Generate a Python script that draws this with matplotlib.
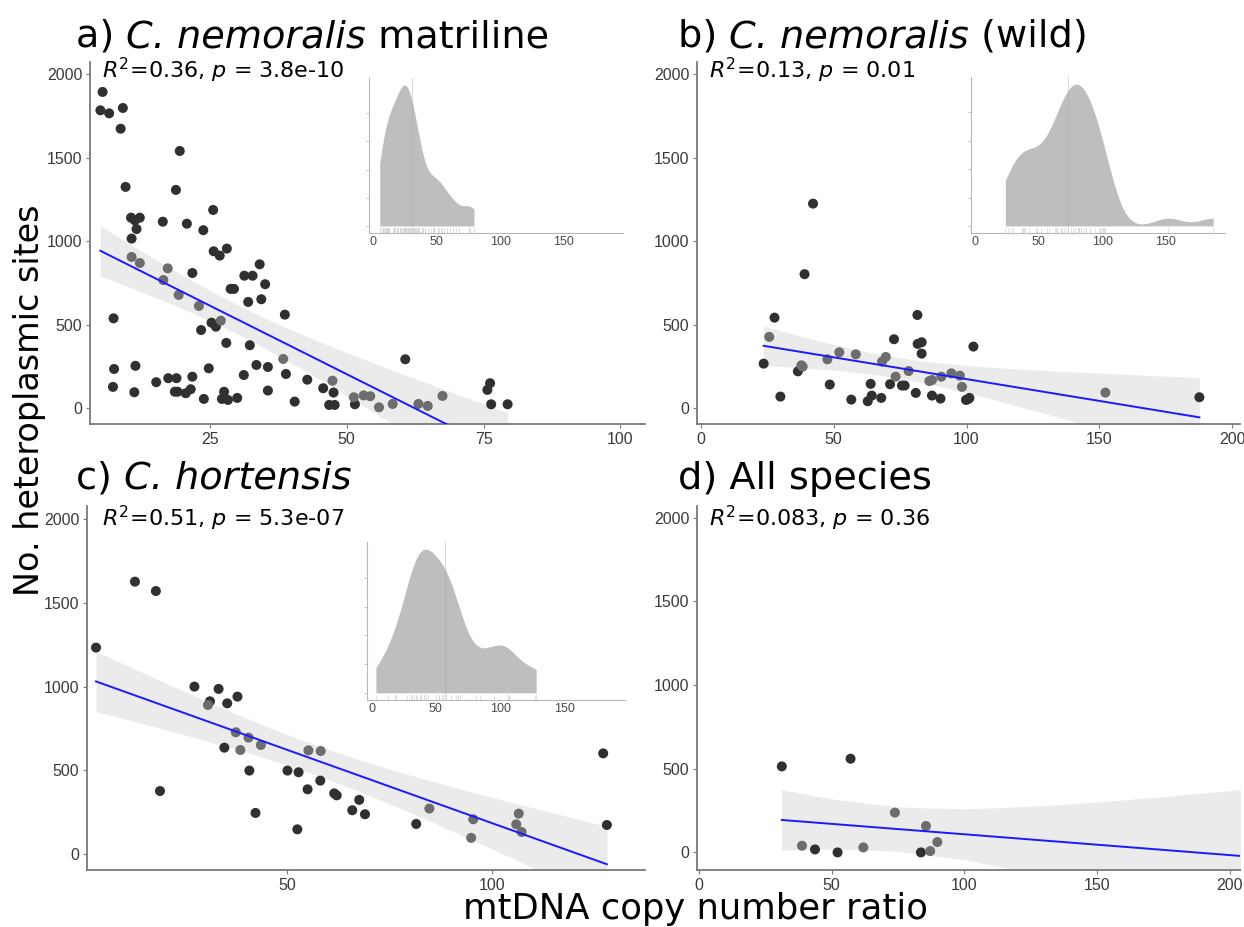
import numpy as np
import matplotlib
matplotlib.use('Agg')
import matplotlib.pyplot as plt
import matplotlib.transforms as mtransforms

plt.rcParams['font.family'] = 'DejaVu Sans'
plt.rcParams['mathtext.fontset'] = 'dejavusans'

#---------------------------------------------------------------------------------
# values: copy number ratio (x) vs heteroplasmic sites (y)
#---------------------------------------------------------------------------------

# a) C. nemoralis matriline
a_dark_x = [5.4, 5.0, 6.6, 9.1, 8.7, 19.5, 9.6, 18.8, 25.6, 10.6, 12.2, 11.3, 11.6,
            16.4, 20.8, 23.8, 10.7, 25.7, 26.8, 28.1, 31.3, 32.8, 34.1, 35.1, 21.8,
            28.8, 29.4, 32.0, 34.4, 38.7, 25.3, 26.1, 23.4, 7.4, 28.0, 32.3, 33.5,
            35.6, 38.9, 11.4, 7.5, 24.8, 31.2, 15.2, 17.4, 18.9, 21.8, 42.8, 7.3,
            11.2, 18.6, 19.1, 20.6, 21.5, 23.9, 27.6, 27.2, 28.3, 30.0, 35.6, 40.5,
            45.7, 47.6, 46.8, 47.8, 51.5, 60.7, 76.2, 75.7, 76.4, 79.4]
a_dark_y = [1893, 1783, 1765, 1797, 1673, 1540, 1325, 1307, 1187, 1141, 1141, 1125, 1073,
            1117, 1105, 1066, 1016, 940, 914, 956, 794, 794, 862, 743, 810,
            715, 715, 637, 653, 561, 513, 489, 469, 539, 392, 378, 260,
            248, 206, 255, 236, 240, 200, 157, 181, 181, 190, 172, 129,
            97, 100, 100, 91, 115, 57, 100, 57, 51, 63, 107, 41,
            121, 95, 21, 21, 25, 294, 151, 111, 25, 25]
a_grey_x = [10.7, 12.2, 17.3, 16.5, 19.3, 23.0, 27.0, 38.4, 47.4, 51.3, 53.1, 54.3,
            55.9, 58.4, 63.1, 64.8, 67.5]
a_grey_y = [906, 870, 838, 768, 679, 613, 525, 296, 166, 67, 78, 73,
            7, 27, 27, 15, 75]

# b) C. nemoralis (wild)
b_dark_x = [42.2, 39.0, 27.7, 81.5, 72.7, 81.6, 83.1, 102.6, 83.1, 23.6, 36.5, 48.5,
            63.9, 71.2, 75.7, 76.7, 80.9, 87.0, 90.2, 29.9, 56.6, 62.8, 64.3, 67.9,
            99.8, 101.1, 100.5, 187.7]
b_dark_y = [1225, 803, 543, 559, 414, 386, 396, 370, 328, 268, 222, 143,
            147, 145, 137, 137, 93, 77, 59, 71, 53, 43, 77, 63,
            51, 63, 55, 67]
b_grey_x = [25.7, 52.1, 58.3, 47.6, 37.8, 38.3, 69.6, 68.2, 73.3, 78.2, 86.0, 87.0,
            90.5, 94.3, 97.5, 98.3, 152.3]
b_grey_y = [428, 336, 324, 294, 258, 250, 308, 280, 190, 224, 164, 170,
            190, 210, 196, 129, 95]

# c) C. hortensis
c_dark_x = [3.4, 12.9, 18.0, 19.0, 27.4, 33.3, 37.9, 31.2, 35.4, 34.7, 40.8, 42.3,
            50.1, 52.8, 55.0, 58.1, 61.5, 62.1, 52.5, 65.9, 67.6, 69.0, 81.5, 127.1,
            128.0]
c_dark_y = [1233, 1627, 1571, 376, 1000, 986, 940, 912, 900, 635, 498, 245,
            498, 488, 386, 438, 362, 350, 147, 261, 323, 237, 179, 601,
            173]
c_grey_x = [30.7, 37.5, 40.6, 38.6, 43.6, 55.2, 58.2, 84.7, 95.4, 94.9, 106.5, 105.9,
            107.2]
c_grey_y = [890, 727, 695, 621, 651, 619, 615, 271, 207, 96, 241, 177,
            131]

# d) All species (one point lies beyond the shown x range, so the fit is read off)
d_dark_x = [31.2, 57.1, 43.7, 52.2, 83.6]
d_dark_y = [514, 560, 18, 0, 0]
d_grey_x = [73.8, 85.5, 89.8, 38.8, 61.9, 87.1]
d_grey_y = [238, 158, 62, 40, 30, 8]
d_fit_x = [31.2, 206.4]
d_fit_y = [194, -24]
d_band_x = [31, 50, 75, 100, 125, 150, 175, 206]
d_band_hi = [375, 320, 272, 260, 275, 301, 334, 378]
d_band_lo = [13, 21, 7, -44, -120, -209, -304, -425]

# title pieces: (text, style)
titles = [[('a) ', 'normal'), ('C. nemoralis', 'italic'), (' matriline', 'normal')],
          [('b) ', 'normal'), ('C. nemoralis', 'italic'), (' (wild)', 'normal')],
          [('c) ', 'normal'), ('C. hortensis', 'italic')],
          [('d) All species', 'normal')]]
stats = [r'$R^2$=0.36, $p$ = 3.8e-10',
         r'$R^2$=0.13, $p$ = 0.01',
         r'$R^2$=0.51, $p$ = 5.3e-07',
         r'$R^2$=0.083, $p$ = 0.36']

W, H = 1244, 927
DARK = '#303030'
GREY = '#6d6d6d'
BAND = '#ebebeb'
AXCOL = '#7a7a7a'


def fig_box(left, top, right, bottom):
    return [left / W, 1 - bottom / H, (right - left) / W, (bottom - top) / H]


def lm_band(x, y):
    x = np.asarray(x, float)
    y = np.asarray(y, float)
    n = len(x)
    slope, icpt = np.polyfit(x, y, 1)
    xs = np.linspace(x.min(), x.max(), 100)
    yh = icpt + slope * xs
    s = np.sqrt(((y - icpt - slope * x) ** 2).sum() / (n - 2))
    t = 1.96 + 2.4 / (n - 2)
    se = s * np.sqrt(1 / n + (xs - x.mean()) ** 2 / ((x - x.mean()) ** 2).sum())
    return xs, yh, yh - t * se, yh + t * se


def density(x):
    x = np.asarray(x, float)
    iqr = np.percentile(x, 75) - np.percentile(x, 25)
    bw = 0.9 * min(x.std(ddof=1), iqr / 1.34) * len(x) ** -0.2
    xs = np.linspace(x.min(), x.max(), 512)
    k = np.exp(-0.5 * ((xs[:, None] - x[None, :]) / bw) ** 2)
    return xs, k.sum(1) / (len(x) * bw * np.sqrt(2 * np.pi))


def style_main(ax, xlim, ylim, xticks):
    ax.set_xlim(*xlim)
    ax.set_ylim(*ylim)
    ax.set_xticks(xticks)
    ax.set_yticks([0, 500, 1000, 1500, 2000])
    for side in ['top', 'right']:
        ax.spines[side].set_visible(False)
    for side in ['left', 'bottom']:
        ax.spines[side].set_color(AXCOL)
        ax.spines[side].set_linewidth(1.3)
    ax.tick_params(colors=AXCOL, length=3, width=0.8, pad=2.5, labelcolor='#3a3a3a')
    for lab in ax.get_xticklabels() + ax.get_yticklabels():
        lab.set_family('Liberation Sans')
        lab.set_fontsize(11.5)


def inset(box, xdata):
    ax = fig.add_axes(box)
    xs, dens = density(xdata)
    ax.fill_between(xs, 0, dens, color='#bebebe', lw=0)
    ax.axvline(np.mean(xdata), color='#a5a5a5', lw=0.6, alpha=0.5)
    trans = mtransforms.blended_transform_factory(ax.transData, ax.transAxes)
    for v in xdata:
        ax.plot([v, v], [0, 0.03], color='#d4d4d4', lw=0.5, transform=trans)
    ax.set_xlim(-3.5, 197)
    ax.set_xticks([0, 50, 100, 150])
    ax.set_yticks(np.linspace(0, dens.max(), 6)[:-1])
    ax.set_yticklabels([])
    for side in ['top', 'right']:
        ax.spines[side].set_visible(False)
    for side in ['left', 'bottom']:
        ax.spines[side].set_color('#b8b8b8')
        ax.spines[side].set_linewidth(0.8)
    ax.tick_params(axis='x', length=0, pad=2, labelsize=9, labelcolor='#4a4a4a')
    ax.tick_params(axis='y', length=2, width=0.6, colors='#b8b8b8')
    for lab in ax.get_xticklabels():
        lab.set_family('Liberation Sans')
    ax.patch.set_alpha(0)
    return ax


def rich_title(x, y, parts, size):
    renderer = fig.canvas.get_renderer()
    for txt, style in parts:
        t = fig.text(x / W, 1 - y / H, txt, fontsize=size, fontstyle=style,
                     va='baseline')
        x += t.get_window_extent(renderer).width


fig = plt.figure(figsize=(W / 100, H / 100), dpi=100)

ax_a = fig.add_axes(fig_box(90, 62, 645, 424))
ax_b = fig.add_axes(fig_box(697, 62, 1240, 424))
ax_c = fig.add_axes(fig_box(87, 506, 645, 870))
ax_d = fig.add_axes(fig_box(697, 506, 1240, 870))

panels = [(ax_a, a_dark_x, a_dark_y, a_grey_x, a_grey_y),
          (ax_b, b_dark_x, b_dark_y, b_grey_x, b_grey_y),
          (ax_c, c_dark_x, c_dark_y, c_grey_x, c_grey_y),
          (ax_d, d_dark_x, d_dark_y, d_grey_x, d_grey_y)]

for i, (ax, dx, dy, gx, gy) in enumerate(panels):
    if i < 3:
        xs, yh, lo, hi = lm_band(dx + gx, dy + gy)
    else:
        xs, lo, hi = d_band_x, d_band_lo, d_band_hi
    ax.fill_between(xs, lo, hi, color=BAND, lw=0, zorder=1)
    ax.scatter(dx, dy, s=52, color=DARK, edgecolors='none', zorder=3)
    ax.scatter(gx, gy, s=52, color=GREY, edgecolors='none', zorder=3)
    if i < 3:
        ax.plot(xs, yh, color='#1a1aff', lw=1.4, zorder=4)
    else:
        ax.plot(d_fit_x, d_fit_y, color='#1a1aff', lw=1.4, zorder=4)
    ax.text(0.022 if i != 2 else 0.026, 0.955 if i < 2 else 0.944, stats[i],
            transform=ax.transAxes, fontsize=16, va='baseline', ha='left', zorder=5)

style_main(ax_a, (3.1, 104.5), (-93, 2072), [25, 50, 75, 100])
style_main(ax_b, (-1.5, 203), (-93, 2072), [0, 50, 100, 150, 200])
style_main(ax_c, (1.2, 137.3), (-96, 2079), [50, 100])
style_main(ax_d, (-0.75, 203.8), (-105, 2070), [0, 50, 100, 150, 200])

inset(fig_box(369, 78, 623, 233), a_dark_x + a_grey_x)
inset(fig_box(971, 77, 1225, 233), b_dark_x + b_grey_x)
inset(fig_box(367, 542, 625, 700), c_dark_x + c_grey_x)

rich_title(76, 47, titles[0], 27.5)
rich_title(678, 47, titles[1], 27.5)
rich_title(76, 489, titles[2], 27.5)
rich_title(678, 489, titles[3], 27.5)

fig.text(695 / W, 1 - 919 / H, 'mtDNA copy number ratio', fontsize=25.5,
         ha='center', va='baseline')
fig.text(30 / W, 1 - 400 / H, 'No. heteroplasmic sites', fontsize=24,
         rotation=90, ha='center', va='center')

fig.savefig('out.png', dpi=100)
